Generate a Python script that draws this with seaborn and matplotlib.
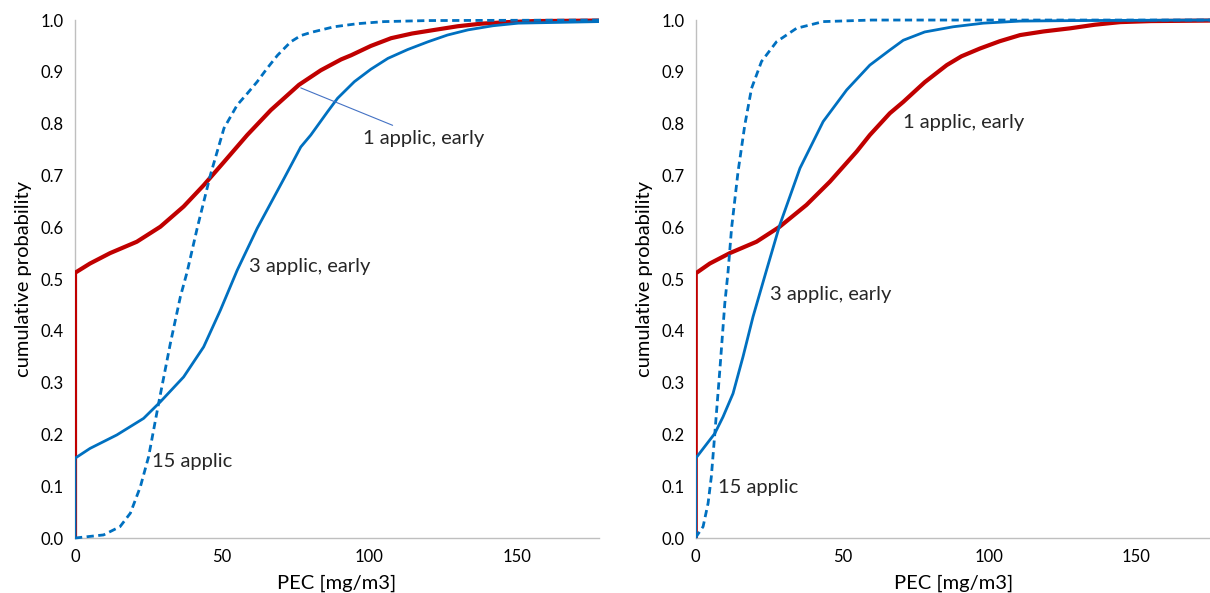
import numpy as np
import pandas as pd
import matplotlib
matplotlib.use("Agg")
import matplotlib.pyplot as plt
from matplotlib.transforms import Bbox, TransformedBbox
import seaborn as sns

# ---- data ----
# Left panel
L_red_x = [0, 0, 5.1, 11.9, 21, 29, 36.9, 43.7, 50.6, 58.5, 66.5, 76.1, 83.5, 90.4, 93.8, 100.5, 107.4, 114.5, 122.2, 130, 138, 147, 156, 178]
L_red_y = [0, 0.512, 0.530, 0.550, 0.572, 0.601, 0.640, 0.681, 0.726, 0.778, 0.826, 0.875, 0.903, 0.924, 0.932, 0.950, 0.965, 0.974, 0.981, 0.988, 0.993, 0.996, 0.998, 0.999]
L_blue_x = [0, 0, 5.1, 14.2, 23.3, 29, 36.9, 43.7, 49.4, 55.1, 61.9, 71, 76.7, 80.1, 85.8, 89.2, 94.9, 100.5, 106.3, 113, 119.9, 126.5, 133.5, 142, 150.6, 178]
L_blue_y = [0, 0.154, 0.173, 0.199, 0.231, 0.263, 0.311, 0.369, 0.440, 0.517, 0.598, 0.694, 0.755, 0.778, 0.823, 0.849, 0.881, 0.905, 0.926, 0.943, 0.958, 0.971, 0.981, 0.989, 0.994, 0.997]
L_dash_x = [0, 9.7, 15.3, 18.8, 22.2, 25, 28.4, 32.4, 35.8, 38.1, 41.5, 46, 50.6, 55.1, 58.5, 61.9, 65.3, 68.8, 73.3, 76.7, 80.1, 88, 96, 105, 120, 178]
L_dash_y = [0, 0.006, 0.022, 0.048, 0.099, 0.157, 0.260, 0.376, 0.466, 0.514, 0.598, 0.701, 0.791, 0.836, 0.858, 0.881, 0.907, 0.932, 0.958, 0.970, 0.976, 0.987, 0.993, 0.997, 0.999, 1.0]

# Right panel
R_red_x = [0, 0, 4.8, 11.6, 20.7, 28.6, 37.7, 45.7, 54.8, 59.3, 66.1, 70.7, 78, 85.5, 90.5, 96.8, 103.5, 110.5, 118.5, 127.5, 136, 144.6, 155, 176]
R_red_y = [0, 0.511, 0.530, 0.550, 0.572, 0.601, 0.643, 0.688, 0.746, 0.778, 0.820, 0.842, 0.880, 0.913, 0.930, 0.945, 0.959, 0.971, 0.978, 0.984, 0.991, 0.996, 0.998, 0.999]
R_blue_x = [0, 0, 6.5, 9.3, 12.7, 16.1, 19.5, 24.1, 28.6, 35.5, 43.4, 51.4, 59.3, 66.1, 70.7, 78, 87.7, 98, 110.5, 130, 176]
R_blue_y = [0, 0.154, 0.202, 0.234, 0.279, 0.350, 0.427, 0.517, 0.604, 0.714, 0.804, 0.865, 0.913, 0.942, 0.961, 0.977, 0.987, 0.994, 0.998, 0.999, 1.0]
R_dash_x = [0, 0.2, 2.5, 4.2, 5.3, 6.5, 8.2, 9.9, 11, 12.2, 14.4, 16.7, 19, 22.4, 27.5, 34.3, 43.4, 60, 176]
R_dash_y = [0, 0.003, 0.022, 0.067, 0.118, 0.202, 0.324, 0.453, 0.514, 0.598, 0.707, 0.797, 0.868, 0.920, 0.958, 0.984, 0.997, 1.0, 1.0]

series_names = ["1 applic, early", "3 applic, early", "15 applic"]
y_ticks = [0.0, 0.1, 0.2, 0.3, 0.4, 0.5, 0.6, 0.7, 0.8, 0.9, 1.0]
x_ticks = [0, 50, 100, 150]

RED = "#C00000"
BLUE = "#0070C0"
GRAY = "#BFBFBF"

sns.set_theme(style="white")
plt.rcParams["font.family"] = ["Lato", "DejaVu Sans"]

fig = plt.figure(figsize=(12.1, 5.93), dpi=100)
axL = fig.add_axes([0.062, 0.0927, 0.433, 0.8735])
axR = fig.add_axes([0.575, 0.0927, 0.427, 0.8735])


def draw(ax, rx, ry, bx, by, dx, dy, xmax):
    dr = pd.DataFrame({"x": rx, "y": ry})
    db = pd.DataFrame({"x": bx, "y": by})
    dd = pd.DataFrame({"x": dx, "y": dy})
    sns.lineplot(data=dr, x="x", y="y", ax=ax, color=RED, lw=3.0,
                 estimator=None, sort=False)
    sns.lineplot(data=dd, x="x", y="y", ax=ax, color=BLUE, lw=2.0,
                 estimator=None, sort=False, linestyle=(0, (2.6, 1.6)))
    sns.lineplot(data=db, x="x", y="y", ax=ax, color=BLUE, lw=2.0,
                 estimator=None, sort=False)
    ax.set_xlim(0, xmax)
    ax.set_ylim(0, 1.0)
    ax.set_yticks(y_ticks)
    ax.set_yticklabels([f"{v:.1f}" for v in y_ticks])
    ax.set_xticks(x_ticks)
    ax.set_xticklabels([str(v) for v in x_ticks])
    for s in ["top", "right"]:
        ax.spines[s].set_visible(False)
    for s in ["left", "bottom"]:
        ax.spines[s].set_color(GRAY)
        ax.spines[s].set_linewidth(1.0)
        ax.spines[s].set_zorder(1)
    ax.tick_params(axis="both", which="major", direction="out", length=4,
                   width=1.0, color=GRAY, labelsize=12, labelcolor="#000000", pad=4)
    ax.set_xlabel("PEC [mg/m3]", fontsize=14.5, labelpad=7, color="black")
    ax.set_ylabel("cumulative probability", fontsize=14.5, labelpad=6, color="black")
    clip = TransformedBbox(Bbox([[0.0, -0.01], [1.0, 1.01]]), ax.transAxes)
    for line in ax.get_lines():
        line.set_zorder(3)
        line.set_clip_box(clip)
        line.set_solid_joinstyle("round")
        line.set_solid_capstyle("butt")


draw(axL, L_red_x, L_red_y, L_blue_x, L_blue_y, L_dash_x, L_dash_y, 178)
draw(axR, R_red_x, R_red_y, R_blue_x, R_blue_y, R_dash_x, R_dash_y, 176)

fs = 14.5
axL.annotate(series_names[0], xy=(76.7, 0.869), xytext=(98.0, 0.772),
             fontsize=fs, va="center", ha="left",
             arrowprops=dict(arrowstyle="-", color="#4472C4", lw=0.8,
                             shrinkA=2, shrinkB=0))
axL.text(59.0, 0.525, series_names[1], fontsize=fs, va="center", ha="left")
axL.text(26.3, 0.147, series_names[2], fontsize=fs, va="center", ha="left")

axR.text(70.6, 0.803, series_names[0], fontsize=fs, va="center", ha="left")
axR.text(25.2, 0.471, series_names[1], fontsize=fs, va="center", ha="left")
axR.text(7.5, 0.098, series_names[2], fontsize=fs, va="center", ha="left")

fig.savefig("out.png", dpi=100)
